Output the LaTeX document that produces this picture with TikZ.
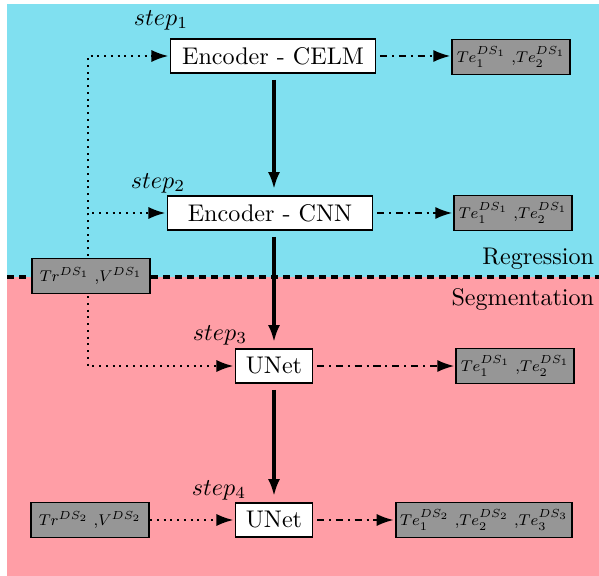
\documentclass[tikz,border=0pt]{standalone}
\usetikzlibrary{arrows.meta,calc}
\newdimen\px \px=0.415pt
\newcommand{\smalldata}[1]{\scalebox{0.81}{#1}}
\definecolor{regcol}{RGB}{128,224,240}
\definecolor{segcol}{RGB}{255,158,166}
\definecolor{boxgray}{RGB}{150,150,150}
\begin{document}
\begin{tikzpicture}[x=0.415pt,y=-0.415pt,
  stagebox/.style={draw=black,thick,fill=white,inner xsep=4.3pt,inner ysep=3.3pt,minimum height=34\px},
  encbox/.style={stagebox,minimum width=205\px},
  databox/.style={draw=black,thick,fill=boxgray,font=\footnotesize,inner xsep=1.8pt,inner ysep=2pt,minimum height=35\px},
  trbox/.style={databox,inner xsep=3.3pt},
  steplabel/.style={font=\normalsize},
  tip/.style={-{Latex[length=7pt,width=5pt]}},
  flow/.style={line width=1.3pt,tip,shorten <=2.5pt,shorten >=2.5pt},
  feed/.style={thick,dotted,tip,shorten >=0.5pt},
  outp/.style={thick,dash dot,tip,shorten <=1.5pt,shorten >=0.5pt}]
\useasboundingbox (0,0) rectangle (599,576);
\fill[regcol] (7,4) rectangle (599,277);
\fill[segcol] (7,277) rectangle (599,576);
\draw[line width=1.3pt,dash pattern=on 7\px off 5\px] (7,277) -- (599,277);
\node[anchor=south east,inner sep=1pt] (reg) at (597,272) {Regression};
\node[anchor=north east,inner sep=1pt] (seg) at (597,286) {Segmentation};

\node[encbox] (celm) at (273,56) {Encoder - CELM};
\node[encbox] (cnn) at (270,213) {Encoder - CNN};
\node[stagebox] (un3) at (274,366) {UNet};
\node[stagebox] (un4) at (274,520) {UNet};

\node[steplabel] (s1) at (161,20) {$step_1$};
\node[steplabel] (s2) at (158,183) {$step_2$};
\node[steplabel] (s3) at (220,335) {$step_3$};
\node[steplabel] (s4) at (219,490) {$step_4$};

\node[databox] (te1) at (511,57) {\smalldata{$Te_1^{DS_1}$ ,$Te_2^{DS_1}$}};
\node[databox] (te2) at (513,213) {\smalldata{$Te_1^{DS_1}$ ,$Te_2^{DS_1}$}};
\node[databox] (te3) at (515,366) {\smalldata{$Te_1^{DS_1}$ ,$Te_2^{DS_1}$}};
\node[databox] (te4) at (484,520) {\smalldata{$Te_1^{DS_2}$ ,$Te_2^{DS_2}$ ,$Te_3^{DS_3}$}};

\coordinate (trx) at (88,276);
\draw[feed] (trx) |- (celm.west);
\draw[feed] (trx) |- (cnn.west);
\draw[feed] (trx) |- (un3.west);
\node[trbox] (tr1) at (91,276) {\smalldata{$Tr^{DS_1}$ ,$V^{DS_1}$}};
\node[trbox] (tr2) at (90,520) {\smalldata{$Tr^{DS_2}$ ,$V^{DS_2}$}};
\draw[feed] (tr2) -- (un4);

\draw[flow] (celm.south -| 274,0) -- (cnn.north -| 274,0);
\draw[flow] (cnn.south -| 274,0) -- (un3.north -| 274,0);
\draw[flow] (un3) -- (un4);

\draw[outp] (celm) -- (te1.west |- celm);
\draw[outp] (cnn) -- (te2.west |- cnn);
\draw[outp] (un3) -- (te3);
\draw[outp] (un4) -- (te4);
\end{tikzpicture}
\end{document}
